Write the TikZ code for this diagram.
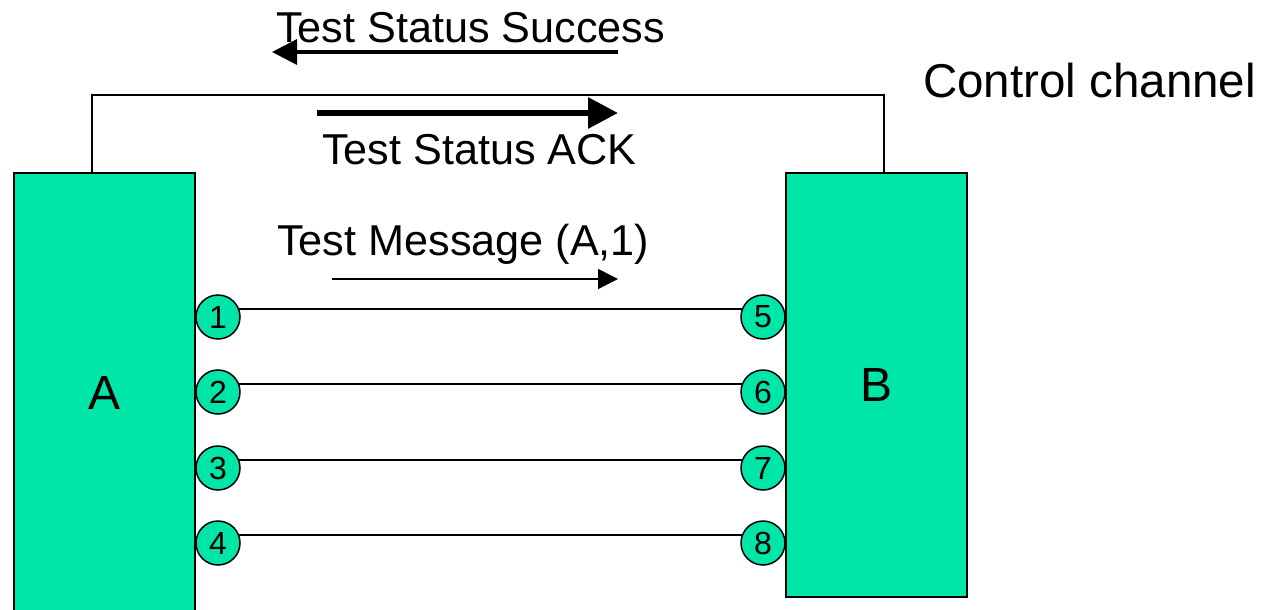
\documentclass[tikz,border=0pt]{standalone}
\usepackage{fontspec}
\setmainfont{Liberation Sans}
\usetikzlibrary{arrows.meta}
\definecolor{boxgreen}{RGB}{0,229,168}
\begin{document}
\begin{tikzpicture}[x=1pt,y=-1pt,
  unit/.style={draw=black,line width=1.8pt,fill=boxgreen,minimum width=181pt,inner sep=0pt,font=\fontsize{48}{56}\selectfont},
  port/.style={circle,draw=black,line width=1.5pt,fill=boxgreen,minimum size=44pt,inner sep=0pt,font=\fontsize{32}{38}\selectfont},
  wire/.style={line width=1.5pt},
  msg/.style={anchor=base west,inner sep=0pt,font=\fontsize{43.2}{52}\selectfont}]
\useasboundingbox (0,0) rectangle (1261,610);
\clip (0,0) rectangle (1261,610);

% the two units
\node[unit,minimum height=440pt] (A) at (104.5,393) {A};
\node[unit,minimum height=424pt] (B) at (876.5,385) {B};

% control channel between the tops of the units
\coordinate (chA) at (92,173);
\coordinate (chB) at (884,173);
\coordinate (chtop) at (0,95);
\draw[wire] (chA) |- (chtop -| chB) -- (chB);
\node[anchor=base west,inner sep=0pt,font=\fontsize{47.5}{56}\selectfont] (cc) at (923,97) {Control channel};

% ports
\foreach \n/\m/\y in {1/5/317,2/6/392,3/7/468,4/8/543}{
  \node[port] (p\n) at (218,\y) {\n};
  \node[port] (p\m) at (763,\y) {\m};
  \draw[wire] (p\n.20) -- (p\m.160);
}

% messages
\node[msg] (tss) at (276,43) {Test Status Success};
\coordinate (tssS) at (618,52);
\coordinate (tssE) at (272,52);
\draw[line width=3.3pt,-{Triangle[length=25pt,width=25pt]}] (tssS) -- (tssE);

\coordinate (ackS) at (317,113);
\coordinate (ackE) at (618,113);
\draw[line width=6pt,-{Triangle[length=30pt,width=30pt]}] (ackS) -- (ackE);
\node[msg] (ack) at (322,164) {Test Status ACK};

\node[msg] (tm) at (277,255) {Test Message (A,1)};
\coordinate (tmS) at (332,279);
\coordinate (tmE) at (618,279);
\draw[line width=1.6pt,-{Triangle[length=20pt,width=20pt]}] (tmS) -- (tmE);
\end{tikzpicture}
\end{document}
